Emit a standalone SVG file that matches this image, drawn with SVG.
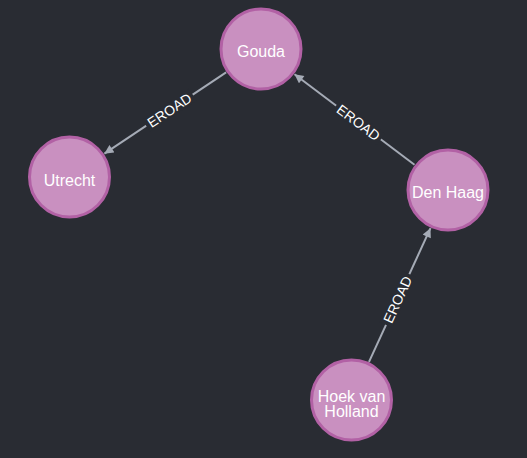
<svg xmlns="http://www.w3.org/2000/svg" width="527" height="458" viewBox="0 0 527 458">
  <style>
    .node circle { fill: #c990c0; stroke: #b261a5; stroke-width: 3; }
    .node text { font-family: "Liberation Sans", Arial, sans-serif; font-size: 16px; fill: #ffffff; text-anchor: middle; }
    .edge line { stroke: #a5abb6; stroke-width: 2; }
    .edge rect { fill: #292c33; }
    .edge text { font-family: "Liberation Sans", Arial, sans-serif; font-size: 14px; fill: #ffffff; text-anchor: middle; }
  </style>
  <defs>
    <marker id="arrow" viewBox="0 0 10 10" refX="10" refY="5" markerWidth="10" markerHeight="9" markerUnits="userSpaceOnUse" orient="auto">
      <path d="M0,0 L10,5 L0,10 z" fill="#a5abb6"/>
    </marker>
  </defs>
  <rect width="527" height="458" fill="#292c33"/>
  <g id="connectors">
    <g class="edge" id="e-gouda-utrecht">
      <line x1="226.1" y1="72.3" x2="104.4" y2="153.7" marker-end="url(#arrow)"/>
      <g transform="translate(169.4,110.2) rotate(-33.75)">
        <rect x="-28" y="-7" width="56" height="14"/>
        <text y="5">EROAD</text>
      </g>
    </g>
    <g class="edge" id="e-denhaag-gouda">
      <line x1="414.5" y1="164.7" x2="294.5" y2="74.3" marker-end="url(#arrow)"/>
      <g transform="translate(358.5,122.5) rotate(37)">
        <rect x="-28" y="-7" width="56" height="14"/>
        <text y="5">EROAD</text>
      </g>
    </g>
    <g class="edge" id="e-hoek-denhaag">
      <line x1="369" y1="361.8" x2="430.5" y2="228.2" marker-end="url(#arrow)"/>
      <g transform="translate(397.6,299.5) rotate(-65.3)">
        <rect x="-28" y="-7" width="56" height="14"/>
        <text y="5">EROAD</text>
      </g>
    </g>
  </g>
  <g class="node" id="gouda">
    <circle cx="261" cy="49" r="40"/>
    <text x="261" y="57">Gouda</text>
  </g>
  <g class="node" id="utrecht">
    <circle cx="69.5" cy="177" r="40"/>
    <text x="69.5" y="185.5">Utrecht</text>
  </g>
  <g class="node" id="denhaag">
    <circle cx="448" cy="190" r="40"/>
    <text x="448" y="198">Den Haag</text>
  </g>
  <g class="node" id="hoekvanholland">
    <circle cx="351.5" cy="400" r="40"/>
    <text x="351.5" y="401.5">Hoek van</text>
    <text x="351.5" y="416.5">Holland</text>
  </g>
</svg>
